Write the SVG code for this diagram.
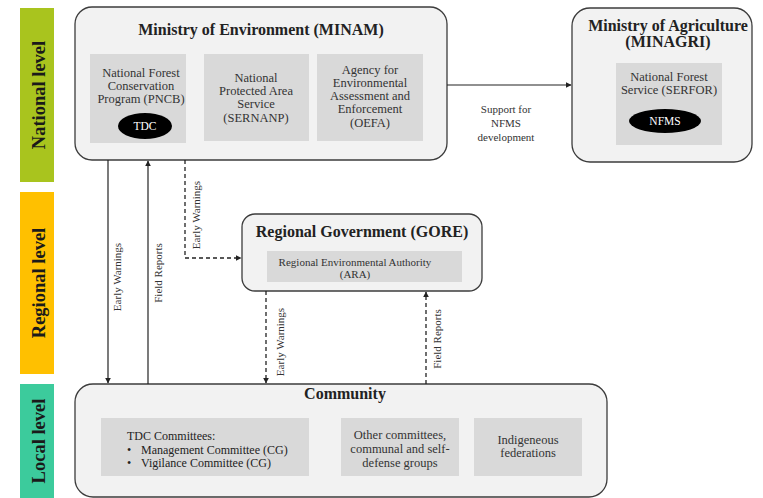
<svg xmlns="http://www.w3.org/2000/svg" width="763" height="498" viewBox="0 0 763 498">
  <defs>
    <marker id="tip" viewBox="0 0 10 10" refX="9" refY="5" markerWidth="6" markerHeight="6" markerUnits="userSpaceOnUse" orient="auto">
      <path d="M0,0 L10,5 L0,10 z" fill="#222"/>
    </marker>
    <style>
      text { font-family: "Liberation Serif", "Times New Roman", serif; fill: #222; }
      .outer { fill: #f2f2f2; stroke: #3c3c3c; stroke-width: 1.3; }
      .inner { fill: #d9d9d9; }
      .title { font-size: 16px; font-weight: bold; text-anchor: middle; }
      .body { font-size: 12.5px; text-anchor: middle; fill: #333; }
      .small { font-size: 11px; text-anchor: middle; fill: #333; }
      .level { font-size: 18.5px; font-weight: bold; text-anchor: middle; fill: #1a1a1a; }
      .pill { fill: #000; }
      .pilltext { font-size: 11.5px; text-anchor: middle; fill: #fff; }
      .solid { fill: none; stroke: #222; stroke-width: 1.2; }
      .dash { fill: none; stroke: #222; stroke-width: 1.3; stroke-dasharray: 4 3; }
    </style>
  </defs>

  <rect width="763" height="498" fill="#ffffff"/>

  <!-- level bands -->
  <g id="level-national">
    <rect x="20" y="8" width="34" height="174" fill="#a9c41e"/>
    <text class="level" transform="translate(44.5,95) rotate(-90)">National level</text>
  </g>
  <g id="level-regional">
    <rect x="20" y="192" width="34" height="182" fill="#ffc000"/>
    <text class="level" transform="translate(44.5,283) rotate(-90)">Regional level</text>
  </g>
  <g id="level-local">
    <rect x="20" y="384" width="34" height="114" fill="#3ccb9c"/>
    <text class="level" transform="translate(44.5,441) rotate(-90)">Local level</text>
  </g>

  <!-- Ministry of Environment -->
  <g id="minam">
    <rect class="outer" x="75" y="7" width="372" height="153" rx="17"/>
    <text class="title" x="261" y="35">Ministry of Environment (MINAM)</text>
    <rect class="inner" x="90" y="54" width="96" height="89"/>
    <text class="body" x="141" y="77">National Forest</text>
    <text class="body" x="141" y="90">Conservation</text>
    <text class="body" x="141" y="103">Program (PNCB)</text>
    <ellipse class="pill" cx="145" cy="126" rx="27" ry="13"/>
    <text class="pilltext" x="145" y="130">TDC</text>
    <rect class="inner" x="204" y="54" width="105" height="87"/>
    <text class="body" x="256" y="82">National</text>
    <text class="body" x="256" y="95">Protected Area</text>
    <text class="body" x="256" y="108">Service</text>
    <text class="body" x="256" y="122">(SERNANP)</text>
    <rect class="inner" x="317" y="54" width="106" height="87"/>
    <text class="body" x="370" y="74">Agency for</text>
    <text class="body" x="370" y="87">Environmental</text>
    <text class="body" x="370" y="100">Assessment and</text>
    <text class="body" x="370" y="113">Enforcement</text>
    <text class="body" x="370" y="127">(OEFA)</text>
  </g>

  <!-- Ministry of Agriculture -->
  <g id="minagri">
    <rect class="outer" x="572" y="8" width="180" height="154" rx="18"/>
    <text class="title" x="668" y="31">Ministry of Agriculture</text>
    <text class="title" x="668" y="47">(MINAGRI)</text>
    <rect class="inner" x="616" y="63" width="106" height="82"/>
    <text class="body" x="669" y="81">National Forest</text>
    <text class="body" x="669" y="94">Service (SERFOR)</text>
    <ellipse class="pill" cx="665" cy="121" rx="36" ry="12"/>
    <text class="pilltext" x="665" y="125">NFMS</text>
  </g>

  <!-- Regional Government -->
  <g id="gore">
    <rect class="outer" x="242" y="214" width="240" height="77" rx="13"/>
    <text class="title" x="362" y="237">Regional Government (GORE)</text>
    <rect class="inner" x="267" y="251" width="195" height="31"/>
    <text class="small" x="355" y="266">Regional Environmental Authority</text>
    <text class="small" x="355" y="278">(ARA)</text>
  </g>

  <!-- Community -->
  <g id="community">
    <rect class="outer" x="75" y="384" width="532" height="113" rx="18"/>
    <text class="title" x="345" y="399">Community</text>
    <rect class="inner" x="101" y="418" width="208" height="58"/>
    <text x="127" y="440" font-size="12" fill="#333">TDC Committees:</text>
    <text x="127" y="454" font-size="12" fill="#333">•</text>
    <text x="141" y="454" font-size="12" fill="#333">Management Committee (CG)</text>
    <text x="127" y="467" font-size="12" fill="#333">•</text>
    <text x="141" y="467" font-size="12" fill="#333">Vigilance Committee (CG)</text>
    <rect class="inner" x="341" y="418" width="118" height="58"/>
    <text class="body" x="400" y="439" font-size="12">Other committees,</text>
    <text class="body" x="400" y="453" font-size="12">communal and self-</text>
    <text class="body" x="400" y="467" font-size="12">defense groups</text>
    <rect class="inner" x="474" y="418" width="108" height="58"/>
    <text class="body" x="528" y="444" font-size="12">Indigeneous</text>
    <text class="body" x="528" y="457" font-size="12">federations</text>
  </g>

  <!-- connectors -->
  <g id="connectors">
    <path class="solid" d="M447,85 H571" marker-end="url(#tip)"/>
    <path class="solid" d="M108,160 V383" marker-end="url(#tip)"/>
    <path class="solid" d="M148,384 V161" marker-end="url(#tip)"/>
    <path class="dash" d="M185,160 V258 H241" marker-end="url(#tip)"/>
    <path class="dash" d="M266,291 V383" marker-end="url(#tip)"/>
    <path class="dash" d="M426,384 V292" marker-end="url(#tip)"/>

    <text class="small" x="506" y="113">Support for</text>
    <text class="small" x="506" y="127">NFMS</text>
    <text class="small" x="506" y="141">development</text>

    <text class="small" transform="translate(121,277) rotate(-90)">Early Warnings</text>
    <text class="small" transform="translate(162,273) rotate(-90)">Field Reports</text>
    <text class="small" transform="translate(200,215) rotate(-90)">Early Warnings</text>
    <text class="small" transform="translate(284,342) rotate(-90)">Early Warnings</text>
    <text class="small" transform="translate(441,339) rotate(-90)">Field Reports</text>
  </g>
</svg>
